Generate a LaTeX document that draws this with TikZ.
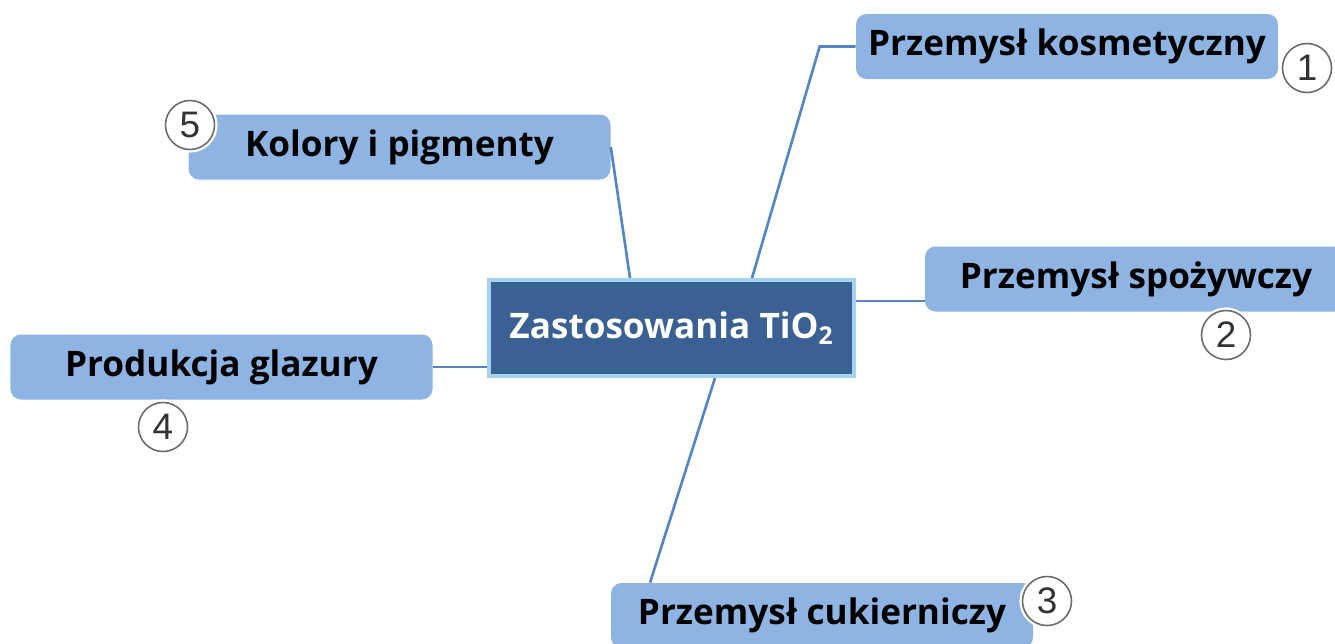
\documentclass[tikz,border=0pt]{standalone}
\usepackage{fontspec}
\setmainfont{Open Sans}
\newfontfamily\numfont{Liberation Sans}
\usetikzlibrary{positioning, calc}
\definecolor{topicblue}{RGB}{142, 180, 227}
\definecolor{centreblue}{RGB}{58, 96, 148}
\definecolor{glowblue}{RGB}{165, 212, 242}
\definecolor{linkblue}{RGB}{84, 134, 198}

\begin{document}
\begin{tikzpicture}[
        topic/.style={rectangle, rounded corners=6pt, fill=topicblue, minimum width=8.44cm, minimum height=1.3cm, font=\fontsize{20}{24}\selectfont\bfseries, align=center},
        centre/.style={rectangle, fill=centreblue, draw=glowblue, line width=0.08cm, minimum width=7.3cm, minimum height=1.92cm, text=white, font=\fontsize{20}{24}\selectfont\bfseries},
        num/.style={circle, draw=gray!85!black, fill=white, line width=0.9pt, minimum size=0.98cm, inner sep=0pt, font=\numfont\fontsize{21}{24}\selectfont, text=black!80, preaction={draw=white, line width=3.5pt}},
        link/.style={draw=linkblue, line width=1.5pt}
    ]
        \useasboundingbox (0,0) rectangle (26.7,-12.86);

        \node[centre] (tio2) at (13.43,-6.56) {Zastosowania TiO$_\mathbf{2}$};
        \node[topic] (kosm) at (21.34,-0.93) {Przemysł kosmetyczny};
        \node[topic] (spoz) at (22.72,-5.58) {Przemysł spożywczy};
        \node[topic] (cuk) at (16.44,-12.31) {Przemysł cukierniczy};
        \node[topic] (glaz) at (4.43,-7.34) {Produkcja glazury};
        \node[topic] (kolor) at (7.99,-2.94) {Kolory i pigmenty};

        \node[num] (n1) at (26.14,-1.36) {1};
        \node[num] (n2) at (24.52,-6.70) {2};
        \node[num] (n3) at (20.94,-12.02) {3};
        \node[num] (n4) at (3.26,-8.54) {4};
        \node[num] (n5) at (3.80,-2.50) {5};

        \draw[link] ([xshift=1.61cm]tio2.north) -- ([xshift=-0.72cm]kosm.west) -- (kosm.west);
        \draw[link] ([yshift=0.54cm]tio2.east) -- ([yshift=0.54cm]tio2.east -| spoz.west);
        \draw[link] ([xshift=0.87cm]tio2.south) -- ([xshift=-3.44cm]cuk.north);
        \draw[link] (glaz.east) -- (glaz.east -| tio2.west);
        \draw[link] (kolor.east) -- ([xshift=-0.83cm]tio2.north);
    \end{tikzpicture}
\end{document}
